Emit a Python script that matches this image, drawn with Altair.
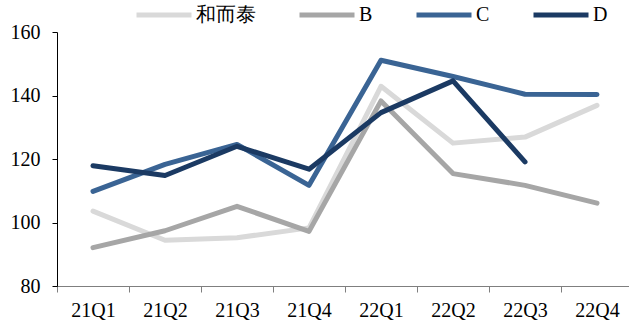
import altair as alt
import pandas as pd

# Quarterly index values for four companies
quarters = ["21Q1", "21Q2", "21Q3", "21Q4", "22Q1", "22Q2", "22Q3", "22Q4"]
series_names = ["和而泰", "B", "C", "D"]
hert_vals = [103.6, 94.4, 95.2, 98.3, 142.9, 125.0, 126.9, 136.9]
b_vals = [92.1, 97.4, 105.1, 97.2, 138.3, 115.4, 111.7, 106.1]
c_vals = [109.8, 118.3, 124.6, 111.7, 151.1, 146.0, 140.4, 140.3]
d_vals = [117.9, 114.8, 124.0, 116.8, 134.6, 144.6, 119.1, None]
series_colors = ["#d9d9d9", "#a6a6a6", "#3a6494", "#1b3a63"]

rows = []
for name, vals in zip(series_names, [hert_vals, b_vals, c_vals, d_vals]):
    for q, v in zip(quarters, vals):
        if v is not None:
            rows.append({"quarter": q, "series": name, "value": v})
df = pd.DataFrame(rows)

FONT = "'Times New Roman', 'Liberation Serif', serif"

chart = (
    alt.Chart(df)
    .mark_line(strokeWidth=5, strokeCap="round", strokeJoin="round")
    .encode(
        x=alt.X(
            "quarter:O",
            sort=quarters,
            bandPosition=0.5,
            scale=alt.Scale(type="band", paddingInner=0, paddingOuter=0, range=[0, 576]),
            axis=alt.Axis(
                title=None,
                labelAngle=0,
                tickBand="extent",
                tickSize=6,
                labelPadding=8,
                domainColor="#7f7f7f",
                tickColor="#7f7f7f",
                labelFontSize=20,
                labelColor="#000000",
            ),
        ),
        y=alt.Y(
            "value:Q",
            scale=alt.Scale(domain=[80, 160], nice=False, zero=False),
            axis=alt.Axis(
                title=None,
                values=[80, 100, 120, 140, 160],
                grid=False,
                tickSize=5,
                labelPadding=12,
                domainColor="#000000",
                tickColor="#000000",
                labelFontSize=20,
                labelColor="#000000",
            ),
        ),
        color=alt.Color(
            "series:N",
            scale=alt.Scale(domain=series_names, range=series_colors),
            sort=series_names,
            legend=alt.Legend(
                title=None,
                orient="none",
                direction="horizontal",
                legendX=77,
                legendY=-47,
                padding=0,
                symbolType="stroke",
                symbolSize=3025,
                symbolStrokeWidth=5,
                labelOffset=2,
                columnPadding=33,
                labelFontSize=20,
                labelColor="#000000",
            ),
        ),
    )
    .properties(
        width=572,
        height=254,
        padding={"left": 57, "top": 32, "right": 0, "bottom": 40},
        autosize=alt.AutoSizeParams(type="none"),
    )
    .configure(font=FONT)
    .configure_axis(labelFont=FONT)
    .configure_legend(labelFont=FONT)
    .configure_view(stroke=None)
)

chart.save("out.html", embed_options={"renderer": "svg", "actions": False})
